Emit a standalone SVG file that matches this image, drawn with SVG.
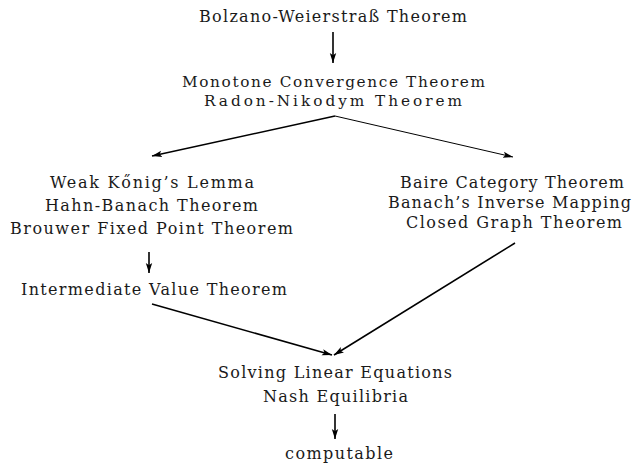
<svg xmlns="http://www.w3.org/2000/svg" width="632" height="463" viewBox="0 0 632 463">
<style>
text{font-family:"DejaVu Serif","Liberation Serif",serif;font-size:16px;fill:#1a1a1a}
.s{font-size:15.3px}
.e{fill:none;stroke:#000;stroke-width:1.6}
.t{fill:none;stroke:#000;stroke-width:1}
</style>
<defs>
<marker id="ah" markerUnits="userSpaceOnUse" markerWidth="11" markerHeight="8" refX="10" refY="4" orient="auto" viewBox="0 0 11 8">
<path d="M0,0.8 L10,4 L0,7.2 L2.2,4 Z" fill="#000"/>
</marker>
</defs>
<rect width="632" height="463" fill="#fff"/>
<g id="connectors">
<line class="e" x1="333" y1="32" x2="333" y2="63" marker-end="url(#ah)"/>
<line class="e" x1="335" y1="116" x2="152" y2="156" marker-end="url(#ah)"/>
<line class="t" x1="335" y1="116" x2="513" y2="157" marker-end="url(#ah)"/>
<line class="e" x1="149" y1="252" x2="149" y2="273" marker-end="url(#ah)"/>
<line class="e" x1="152" y1="304" x2="332" y2="355" marker-end="url(#ah)"/>
<line class="e" x1="515" y1="243" x2="334" y2="355" marker-end="url(#ah)"/>
<line class="e" x1="335" y1="414" x2="335" y2="439" marker-end="url(#ah)"/>
</g>
<g id="n1"><text x="199" y="22" textLength="268" lengthAdjust="spacing">Bolzano-Weierstraß Theorem</text></g>
<g id="n2">
<text class="s" x="182" y="87" textLength="303" lengthAdjust="spacing">Monotone Convergence Theorem</text>
<text class="s" x="204" y="105.5" textLength="258" lengthAdjust="spacing">Radon-Nikodym Theorem</text>
</g>
<g id="n3">
<text x="50" y="188" textLength="204" lengthAdjust="spacing">Weak Kőnig’s Lemma</text>
<text x="45" y="211" textLength="213" lengthAdjust="spacing">Hahn-Banach Theorem</text>
<text x="10" y="234" textLength="283" lengthAdjust="spacing">Brouwer Fixed Point Theorem</text>
</g>
<g id="n4"><text x="21" y="295" textLength="266" lengthAdjust="spacing">Intermediate Value Theorem</text></g>
<g id="n5">
<text x="400" y="188" textLength="224" lengthAdjust="spacing">Baire Category Theorem</text>
<text x="388" y="208" textLength="243" lengthAdjust="spacing">Banach’s Inverse Mapping</text>
<text x="406" y="228" textLength="216" lengthAdjust="spacing">Closed Graph Theorem</text>
</g>
<g id="n6">
<text x="218" y="378" textLength="234" lengthAdjust="spacing">Solving Linear Equations</text>
<text x="263" y="402" textLength="145" lengthAdjust="spacing">Nash Equilibria</text>
</g>
<g id="n7"><text x="285" y="459" textLength="108" lengthAdjust="spacing">computable</text></g>
</svg>
